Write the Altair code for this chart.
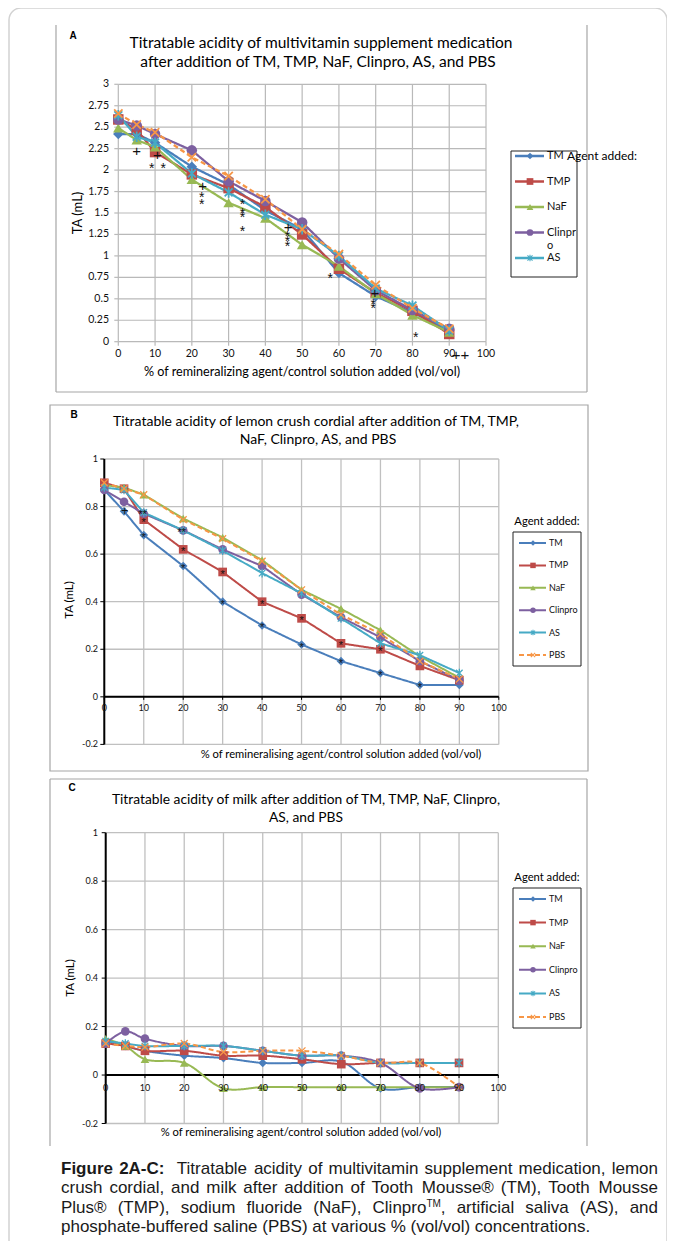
import altair as alt
import pandas as pd

# ---------------- data ----------------
SERIES = ["TM", "TMP", "NaF", "Clinpro", "AS", "PBS"]
SERIES_COLORS = ["#4a7ebb", "#be4b48", "#98b954", "#7d60a0", "#46aac5", "#f79646"]
X_PCT = [0, 5, 10, 20, 30, 40, 50, 60, 70, 80, 90]

X_TICKS = [0, 10, 20, 30, 40, 50, 60, 70, 80, 90, 100]
X_TICK_LABELS = ["0", "10", "20", "30", "40", "50", "60", "70", "80", "90", "100"]
A_Y_TICKS = [0, 0.25, 0.5, 0.75, 1, 1.25, 1.5, 1.75, 2, 2.25, 2.5, 2.75, 3]
A_Y_LABELS = ["0", "0.25", "0.5", "0.75", "1", "1.25", "1.5", "1.75", "2", "2.25", "2.5", "2.75", "3"]
BC_Y_TICKS = [-0.2, 0, 0.2, 0.4, 0.6, 0.8, 1]
BC_Y_LABELS = ["-0.2", "0", "0.2", "0.4", "0.6", "0.8", "1"]

# Panel A: multivitamin supplement medication
A_TM      = [2.42, 2.42, 2.32, 2.04, 1.83, 1.53, 1.31, 0.80, 0.53, 0.34, 0.13]
A_TMP     = [2.59, 2.47, 2.21, 1.95, 1.79, 1.57, 1.25, 0.85, 0.57, 0.36, 0.09]
A_NAF     = [2.49, 2.35, 2.27, 1.89, 1.62, 1.44, 1.13, 0.88, 0.56, 0.31, 0.11]
A_CLINPRO = [2.59, 2.52, 2.42, 2.23, 1.87, 1.64, 1.39, 0.97, 0.60, 0.37, 0.15]
A_AS      = [2.64, 2.39, 2.32, 1.96, 1.74, 1.48, 1.31, 1.00, 0.62, 0.42, 0.13]
A_PBS     = [2.66, 2.53, 2.44, 2.15, 1.93, 1.66, 1.31, 1.02, 0.66, 0.39, 0.15]

# Panel B: lemon crush cordial
B_TM      = [0.87, 0.78, 0.68, 0.55, 0.40, 0.30, 0.22, 0.15, 0.10, 0.05, 0.05]
B_TMP     = [0.90, 0.875, 0.745, 0.62, 0.525, 0.40, 0.33, 0.225, 0.20, 0.13, 0.07]
B_NAF     = [0.89, 0.88, 0.85, 0.75, 0.67, 0.575, 0.45, 0.37, 0.28, 0.17, 0.08]
B_CLINPRO = [0.87, 0.82, 0.77, 0.70, 0.62, 0.55, 0.43, 0.335, 0.25, 0.15, 0.07]
B_AS      = [0.88, 0.87, 0.775, 0.70, 0.615, 0.52, 0.435, 0.33, 0.225, 0.175, 0.10]
B_PBS     = [0.90, 0.875, 0.85, 0.745, 0.665, 0.57, 0.45, 0.345, 0.265, 0.15, 0.075]

# Panel C: milk
C_TM      = [0.14, 0.12, 0.10, 0.08, 0.07, 0.05, 0.05, 0.055, -0.055, -0.05, -0.05]
C_TMP     = [0.13, 0.12, 0.10, 0.10, 0.08, 0.08, 0.065, 0.045, 0.05, 0.05, 0.05]
C_NAF     = [0.15, 0.12, 0.065, 0.05, -0.055, -0.05, -0.05, -0.05, -0.05, -0.05, -0.05]
C_CLINPRO = [0.13, 0.18, 0.15, 0.12, 0.12, 0.10, 0.08, 0.08, 0.05, -0.055, -0.05]
C_AS      = [0.14, 0.13, 0.12, 0.12, 0.12, 0.10, 0.08, 0.08, 0.05, 0.05, 0.05]
C_PBS     = [0.13, 0.12, 0.115, 0.13, 0.095, 0.10, 0.10, 0.08, 0.05, 0.05, -0.05]

# significance marks drawn on the charts
A_NOTE_X = [5.0, 10.6, 9.1, 12.2, 22.9, 22.7, 22.7, 33.8, 33.8, 33.8, 33.8, 46.2, 46.0, 46.0, 46.0,
            57.6, 69.8, 69.3, 69.3, 80.9, 93.1]
A_NOTE_Y = [2.22, 2.18, 2.06, 2.06, 1.81, 1.72, 1.64, 1.64, 1.535, 1.485, 1.32, 1.34, 1.27, 1.21, 1.15,
            0.78, 0.57, 0.48, 0.43, 0.085, -0.155]
A_NOTE_T = ["+", "+", "*", "*", "+", "*", "*", "*", "*", "*", "*", "+", "*", "*", "*",
            "*", "+", "*", "*", "*", "++"]

B_NOTE_X = [5.2, 9.7, 10, 10, 19.6, 20, 20, 30, 30, 40, 40, 50, 50, 60, 60, 70, 70, 80]
B_NOTE_Y = [0.78, 0.778, 0.745, 0.68, 0.70, 0.62, 0.55, 0.525, 0.40, 0.40, 0.30, 0.33, 0.22,
            0.225, 0.15, 0.20, 0.10, 0.05]
B_NOTE_T = ["+", "**", "*", "*", "**", "*", "*", "*", "*", "*", "*", "*", "*", "*", "*", "*", "*", "*"]

A_LEGEND_SERIES = ["TM", "TMP", "NaF", "Clinpro", "AS"]
A_LEGEND_LABELS = ["TM", "TMP", "NaF", "Clinpr", "AS"]
BC_LEGEND_LABELS = ["TM", "TMP", "NaF", "Clinpro", "AS", "PBS"]

TITLE_A = ["Titratable acidity of multivitamin supplement medication",
           "after addition of TM, TMP, NaF, Clinpro, AS, and PBS"]
TITLE_B = ["Titratable acidity of  lemon crush cordial after addition of TM, TMP,",
           "NaF, Clinpro, AS, and PBS"]
TITLE_C = ["Titratable acidity of milk  after addition of TM, TMP, NaF, Clinpro,",
           "AS, and PBS"]

CAPTION_LINES = [
    "Figure 2A-C: Titratable acidity of multivitamin supplement medication, lemon",
    "crush cordial, and milk after addition of Tooth Mousse\u00ae (TM), Tooth Mousse",
    "Plus\u00ae (TMP), sodium fluoride (NaF), Clinpro^TM, artificial saliva (AS), and",
    "phosphate-buffered saline (PBS) at various % (vol/vol) concentrations.",
]
CAPTION_BOLD_WORDS = 2

# ---------------- styling / layout ----------------
OX = OY = 8
W, H = 659, 1233
FONT = "Lato"
ARIAL = "Liberation Sans"
ONE = pd.DataFrame({"k": [0]})

AS_PATH = "M-0.75,-0.75L0.75,0.75M-0.75,0.75L0.75,-0.75M0,-1L0,1"
X_PATH = "M-0.8,-0.8L0.8,0.8M-0.8,0.8L0.8,-0.8"
SHAPES = ["diamond", "square", "triangle-up", "circle", AS_PATH, X_PATH]
DASHES = [[1, 0], [1, 0], [1, 0], [1, 0], [1, 0], [5, 3]]

COLOR_SC = alt.Scale(domain=SERIES, range=SERIES_COLORS)
SHAPE_SC = alt.Scale(domain=SERIES, range=SHAPES)
DASH_SC = alt.Scale(domain=SERIES, range=DASHES)


def vx(x):
    return alt.value(x - OX)


def vy(y):
    return alt.value(y - OY)


def text_at(x, y, s, size, font=FONT, **kw):
    kw.setdefault("color", "#000")
    kw.setdefault("baseline", "middle")
    return alt.Chart(ONE).mark_text(text=s, fontSize=size, font=font, **kw).encode(x=vx(x), y=vy(y))


def hrule(x1, x2, y, color, w):
    return alt.Chart(ONE).mark_rule(color=color, strokeWidth=w).encode(x=vx(x1), x2=vx(x2), y=vy(y))


def vrule(x, y1, y2, color, w):
    return alt.Chart(ONE).mark_rule(color=color, strokeWidth=w).encode(x=vx(x), y=vy(y1), y2=vy(y2))


def rect(x1, y1, x2, y2, color, w, r=0):
    return alt.Chart(ONE).mark_rect(fillOpacity=0, stroke=color, strokeWidth=w, cornerRadius=r).encode(
        x=vx(x1), x2=vx(x2), y=vy(y1), y2=vy(y2))


def long_df(cols):
    rows = []
    for name, vals in zip(SERIES, cols):
        for x, v in zip(X_PCT, vals):
            rows.append({"series": name, "x": x, "ta": v})
    return pd.DataFrame(rows)


def marker_layers(df, enc, size, xw):
    filled = df[df["series"].isin(SERIES[:4])]
    crosses = df[df["series"].isin(SERIES[4:])]
    shp = alt.Shape("series:N", scale=SHAPE_SC, legend=None)
    col = alt.Color("series:N", scale=COLOR_SC, legend=None)
    out = []
    if len(filled):
        out.append(alt.Chart(filled).mark_point(filled=True, opacity=1, size=size, strokeWidth=0)
                   .encode(shape=shp, color=col, **enc))
    if len(crosses):
        out.append(alt.Chart(crosses).mark_point(filled=False, opacity=1, size=size, strokeWidth=xw)
                   .encode(shape=shp, color=col, **enc))
    return out


def build_panel(df, p, notes):
    L, R, T, B = p["L"], p["R"], p["T"], p["B"]
    xs = alt.Scale(domain=[0, 100], range=[L - OX, R - OX], nice=False, zero=False)
    ys = alt.Scale(domain=[p["ymin"], p["ymax"]], range=[B - OY, T - OY], nice=False, zero=False)

    def X(f):
        return alt.X(f, scale=xs, axis=None)

    def Y(f):
        return alt.Y(f, scale=ys, axis=None)

    xt = pd.DataFrame({"v": X_TICKS, "lab": X_TICK_LABELS})
    yt = pd.DataFrame({"v": p["yticks"], "lab": p["ylabels"]})
    g = p["grid"]
    layers = [
        alt.Chart(xt).mark_rule(color=g, strokeWidth=p["gw"]).encode(x=X("v:Q"), y=vy(T), y2=vy(B)),
        alt.Chart(yt).mark_rule(color=g, strokeWidth=p["gw"]).encode(y=Y("v:Q"), x=vx(L), x2=vx(R)),
    ]
    if p["style"] == "gray":
        layers += [
            alt.Chart(yt).mark_rule(color=g, strokeWidth=p["gw"]).encode(y=Y("v:Q"), x=vx(L - 4), x2=vx(L)),
            alt.Chart(xt).mark_rule(color=g, strokeWidth=p["gw"]).encode(x=X("v:Q"), y=vy(B), y2=vy(B + 4)),
        ]
    else:
        y0 = B - (0 - p["ymin"]) / (p["ymax"] - p["ymin"]) * (B - T)
        zero = pd.DataFrame({"v": [0]})
        layers += [
            alt.Chart(yt).mark_rule(color="#000", strokeWidth=1).encode(y=Y("v:Q"), x=vx(L - 4), x2=vx(L)),
            alt.Chart(xt).mark_rule(color="#000", strokeWidth=1).encode(x=X("v:Q"), y=vy(y0), y2=vy(y0 + 3)),
            alt.Chart(zero).mark_rule(color="#000", strokeWidth=2).encode(y=Y("v:Q"), x=vx(L), x2=vx(R)),
            vrule(L, T, B, "#000", 2),
        ]
    tick_labels = [
        alt.Chart(xt).mark_text(fontSize=p["tfs"], font=FONT, color="#111", baseline="middle")
        .encode(x=X("v:Q"), y=vy(p["xlab_y"]), text="lab:N"),
        alt.Chart(yt).mark_text(fontSize=p["tfs"], font=FONT, color="#111", align="right", baseline="middle")
        .encode(y=Y("v:Q"), x=vx(p["ylab_x"]), text="lab:N"),
    ]
    if p["style"] == "gray":
        layers += tick_labels
    # data lines and markers
    layers.append(alt.Chart(df).mark_line(strokeWidth=p["lw"], interpolate=p["interp"]).encode(
        x=X("x:Q"), y=Y("ta:Q"),
        color=alt.Color("series:N", scale=COLOR_SC, legend=None),
        strokeDash=alt.StrokeDash("series:N", scale=DASH_SC, legend=None)))
    layers += marker_layers(df, {"x": X("x:Q"), "y": Y("ta:Q")}, p["ms"], p["xw"])
    if p["style"] != "gray":
        layers += tick_labels   # labels sit on top of the markers, as in the source
    # significance marks
    if notes is not None:
        nd = pd.DataFrame({"x": notes[0], "y": notes[1], "t": notes[2]})
        plus = nd[nd["t"].str.contains("+", regex=False)]
        star = nd[~nd["t"].str.contains("+", regex=False)]
        if len(plus):
            layers.append(alt.Chart(plus).mark_text(fontSize=p["pfs"], font=ARIAL, color="#111",
                                                    baseline="middle")
                          .encode(x=X("x:Q"), y=Y("y:Q"), text="t:N"))
        if len(star):
            layers.append(alt.Chart(star).mark_text(fontSize=p["sfs"], font=ARIAL, color="#111",
                                                    baseline="middle", dy=p["sdy"])
                          .encode(x=X("x:Q"), y=Y("y:Q"), text="t:N"))
    plot = alt.layer(*layers)

    # custom legend
    names = p["leg_names"]
    lys = alt.Scale(type="point", domain=names, range=[p["ly0"] - OY, p["ly1"] - OY], padding=0)
    ldf = pd.DataFrame({"series": names, "label": p["leg_labels"]})
    Yl = alt.Y("series:N", scale=lys, axis=None)
    leg = [
        alt.Chart(ldf).mark_rule(strokeWidth=p["llw"]).encode(
            y=Yl, x=vx(p["lx0"]), x2=vx(p["lx1"]),
            color=alt.Color("series:N", scale=COLOR_SC, legend=None),
            strokeDash=alt.StrokeDash("series:N", scale=DASH_SC, legend=None)),
    ]
    leg += marker_layers(ldf, {"x": vx(p["lmx"]), "y": Yl}, p["lms"], 1.1)
    leg.append(alt.Chart(ldf).mark_text(align="left", baseline="middle", fontSize=p["lfs"], font=FONT,
                                        color="#111").encode(y=Yl, x=vx(p["ltx"]), text="label:N"))
    legend = alt.layer(*leg)
    return alt.layer(plot, legend).resolve_scale(y="independent")


PA = dict(L=118.3, R=486.0, T=84.3, B=341.7, ymin=0, ymax=3, yticks=A_Y_TICKS, ylabels=A_Y_LABELS,
          grid="#b9b9b9", gw=1.2, style="gray", tfs=10.5, xlab_y=354, ylab_x=109,
          lw=2.25, interp="linear", ms=110, xw=1.8, pfs=15, sfs=14, sdy=4,
          leg_names=A_LEGEND_SERIES, leg_labels=A_LEGEND_LABELS, ly0=156, ly1=258,
          lx0=515, lx1=544, lmx=530, lms=45, ltx=547, lfs=11, llw=2.5)
PB = dict(L=104.3, R=498.8, T=459.0, B=744.4, ymin=-0.2, ymax=1, yticks=BC_Y_TICKS, ylabels=BC_Y_LABELS,
          grid="#c0c0c0", gw=1.3, style="black", tfs=9, xlab_y=708, ylab_x=98,
          lw=2, interp="linear", ms=75, xw=1.3, pfs=12, sfs=11, sdy=3,
          leg_names=SERIES, leg_labels=BC_LEGEND_LABELS, ly0=543, ly1=655,
          lx0=519, lx1=546, lmx=533, lms=30, ltx=549, lfs=9, llw=2)
PC = dict(L=105.7, R=498.3, T=832.7, B=1123.5, ymin=-0.2, ymax=1, yticks=BC_Y_TICKS, ylabels=BC_Y_LABELS,
          grid="#c0c0c0", gw=1.3, style="black", tfs=9, xlab_y=1088, ylab_x=98,
          lw=2, interp="catmull-rom", ms=75, xw=1.3, pfs=12, sfs=11, sdy=3,
          leg_names=SERIES, leg_labels=BC_LEGEND_LABELS, ly0=899, ly1=1017,
          lx0=519, lx1=546, lmx=533, lms=30, ltx=549, lfs=9, llw=2)

panel_a = build_panel(long_df([A_TM, A_TMP, A_NAF, A_CLINPRO, A_AS, A_PBS]), PA,
                      (A_NOTE_X, A_NOTE_Y, A_NOTE_T))
panel_b = build_panel(long_df([B_TM, B_TMP, B_NAF, B_CLINPRO, B_AS, B_PBS]), PB,
                      (B_NOTE_X, B_NOTE_Y, B_NOTE_T))
panel_c = build_panel(long_df([C_TM, C_TMP, C_NAF, C_CLINPRO, C_AS, C_PBS]), PC, None)

FRAME = "#a6a6a6"
deco = [
    rect(9, 8, 667, 1300, "#d2d2d2", 1.5, 12),
    # panel A frame (open top)
    vrule(56, 25, 392, FRAME, 1.2), vrule(587, 25, 392, FRAME, 1.2), hrule(56, 587, 392, FRAME, 1.2),
    # panel B frame
    rect(50, 405, 588, 771, FRAME, 1.2),
    # panel C frame
    vrule(50, 779, 1146, FRAME, 1.2), vrule(587, 779, 1146, FRAME, 1.2), hrule(50, 587, 779, FRAME, 1.2),
    # panel letters
    text_at(73, 36, "A", 10, font=ARIAL, fontWeight="bold"),
    text_at(74, 415, "B", 10, font=ARIAL, fontWeight="bold"),
    text_at(72, 788, "C", 10, font=ARIAL, fontWeight="bold"),
    # titles
    text_at(321, 43, TITLE_A[0], 15.5), text_at(318, 62, TITLE_A[1], 15.5),
    text_at(316, 422, TITLE_B[0], 14), text_at(318, 440, TITLE_B[1], 14),
    text_at(306, 800, TITLE_C[0], 13.8), text_at(306, 818, TITLE_C[1], 13.8),
    # axis titles
    text_at(78, 213, "TA (mL)", 13, angle=270),
    text_at(302, 372, "% of remineralizing agent/control solution added (vol/vol)", 12.6),
    text_at(70, 600, "TA (mL)", 11.5, angle=270),
    text_at(341, 755, "% of remineralising agent/control solution added (vol/vol)", 11.2),
    text_at(71, 978, "TA (mL)", 11.5, angle=270),
    text_at(301, 1133, "% of remineralising agent/control solution added (vol/vol)", 11.2),
    # legend boxes and titles
    rect(511, 151, 577, 277, "#222", 1),
    text_at(547, 246, "o", 11, align="left", color="#111"),
    text_at(567, 156, "Agent added:", 12, align="left"),
    rect(513, 532, 581, 666, "#222", 1),
    text_at(547, 522, "Agent added:", 11.2, align="center"),
    rect(513, 888, 581, 1028, "#222", 1),
    text_at(547, 878, "Agent added:", 11.2, align="center"),
]

# ---------------- caption (justified like the source) ----------------
AR = {" ": 278, "a": 556, "b": 556, "c": 500, "d": 556, "e": 556, "f": 278, "g": 556, "h": 556,
      "i": 222, "j": 222, "k": 500, "l": 222, "m": 833, "n": 556, "o": 556, "p": 556, "q": 556,
      "r": 333, "s": 500, "t": 278, "u": 556, "v": 500, "w": 722, "x": 500, "y": 500, "z": 500,
      "A": 667, "B": 667, "C": 722, "D": 722, "E": 667, "F": 611, "G": 778, "H": 722, "I": 278,
      "L": 556, "M": 833, "N": 722, "O": 778, "P": 667, "R": 722, "S": 667, "T": 611, "U": 722,
      "(": 333, ")": 333, ",": 278, ".": 278, ":": 278, "-": 333, "/": 278, "%": 889, "\u00ae": 737}
ARB = {" ": 278, "F": 611, "i": 278, "g": 611, "u": 611, "r": 389, "e": 556, "A": 722, "-": 333,
       "C": 722, ":": 333}
CAP_SIZE = 17
SUP_SIZE = 10
CAP_LEFT, CAP_RIGHT = 61, 658
CAP_BASE0, CAP_STEP = 1173.5, 19.6


def text_w(s, style):
    if style == "b":
        return sum(ARB.get(ch, 556) for ch in s) * CAP_SIZE / 1000
    size = SUP_SIZE if style == "sup" else CAP_SIZE
    return sum(AR.get(ch, 556) for ch in s) * size / 1000


cap_rows = []
for li, line in enumerate(CAPTION_LINES):
    words = []
    for wi, w in enumerate(line.split(" ")):
        if li == 0 and wi < CAPTION_BOLD_WORDS:
            words.append([(w, "b")])
        elif "^" in w:
            pre, rest = w.split("^")
            sup = rest.rstrip(",.")
            words.append([(pre, "r"), (sup, "sup"), (rest[len(sup):], "r")])
        else:
            words.append([(w, "r")])
    widths = [sum(text_w(t, s) for t, s in wd) for wd in words]
    weights = [2 if (li == 0 and gi == CAPTION_BOLD_WORDS - 1) else 1 for gi in range(len(words) - 1)]
    if li < len(CAPTION_LINES) - 1:
        unit = (CAP_RIGHT - CAP_LEFT - sum(widths)) / sum(weights)
    else:
        unit = text_w(" ", "r")
    base = CAP_BASE0 + CAP_STEP * li
    xcur = CAP_LEFT
    for wi, wd in enumerate(words):
        xp = xcur
        for t, s in wd:
            if t:
                cap_rows.append({"x": xp - OX, "y": (base - 6 if s == "sup" else base) - OY, "t": t, "s": s})
            xp += text_w(t, s)
        if wi < len(weights):
            xcur += widths[wi] + unit * weights[wi]

cap = pd.DataFrame(cap_rows)
caption = []
for style, size, weight in [("r", CAP_SIZE, "normal"), ("b", CAP_SIZE, "bold"), ("sup", SUP_SIZE, "normal")]:
    sub = cap[cap["s"] == style]
    caption.append(alt.Chart(sub).mark_text(align="left", baseline="alphabetic", font=ARIAL,
                                             fontSize=size, fontWeight=weight, color="#1a1a1a")
                   .encode(x=alt.X("x:Q", scale=None), y=alt.Y("y:Q", scale=None), text="t:N"))

chart = alt.layer(*deco, panel_a, panel_b, panel_c, *caption).resolve_scale(
    x="independent", y="independent"
).properties(
    width=W, height=H, padding=0, autosize=alt.AutoSizeParams(type="none"), background="white"
).configure_view(stroke=None)

chart.save("out.html", embed_options={"renderer": "svg", "actions": False})
